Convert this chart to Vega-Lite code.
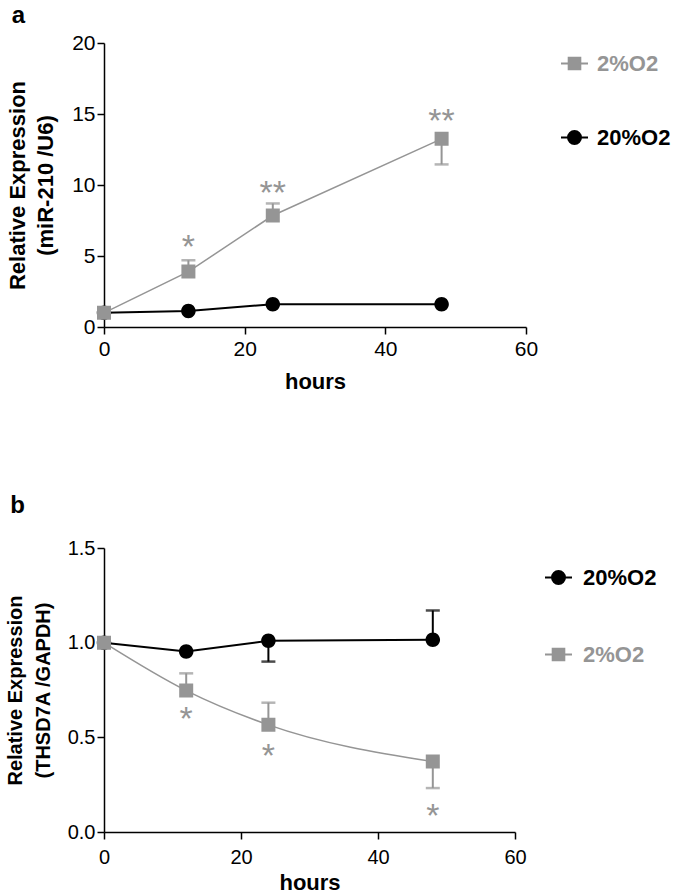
{
  "$schema": "https://vega.github.io/schema/vega-lite/v6.json",
  "background": "white",
  "padding": {"left": 5, "top": 4, "right": 0, "bottom": 0},
  "bounds": "flush",
  "spacing": 221,
  "config": {
    "font": "Liberation Sans",
    "view": {"stroke": null},
    "axis": {"grid": false, "labelFlush": false, "domainColor": "#000000", "tickColor": "#000000", "domainWidth": 1.5, "tickWidth": 1.5, "tickSize": 7, "labelColor": "#000000", "titleColor": "#000000", "titleFontWeight": "bold", "labelFont": "Liberation Sans", "titleFont": "Liberation Sans"}
  },
  "resolve": {"scale": {"color": "independent", "shape": "independent"}, "legend": {"color": "independent", "shape": "independent"}},
  "datasets": {
    "a": [
      {"hours": 0, "series": "20%O2", "value": 1.0, "err": null},
      {"hours": 12, "series": "20%O2", "value": 1.13, "err": null},
      {"hours": 24, "series": "20%O2", "value": 1.6, "err": null},
      {"hours": 48, "series": "20%O2", "value": 1.6, "err": null},
      {"hours": 0, "series": "2%O2", "value": 1.0, "err": null},
      {"hours": 12, "series": "2%O2", "value": 3.9, "err": 4.7},
      {"hours": 24, "series": "2%O2", "value": 7.85, "err": 8.7},
      {"hours": 48, "series": "2%O2", "value": 13.25, "err": 11.45}
    ],
    "b": [
      {"hours": 0, "series": "20%O2", "value": 1.0, "err": null},
      {"hours": 12, "series": "20%O2", "value": 0.953, "err": null},
      {"hours": 24, "series": "20%O2", "value": 1.01, "err": 0.9},
      {"hours": 48, "series": "20%O2", "value": 1.015, "err": 1.17},
      {"hours": 0, "series": "2%O2", "value": 1.0, "err": null},
      {"hours": 12, "series": "2%O2", "value": 0.747, "err": 0.838},
      {"hours": 24, "series": "2%O2", "value": 0.566, "err": 0.683},
      {"hours": 48, "series": "2%O2", "value": 0.372, "err": 0.232}
    ],
    "sa": [
      {"hours": 12, "label": "*", "pos": 6.1},
      {"hours": 24, "label": "**", "pos": 9.9},
      {"hours": 48, "label": "**", "pos": 15.0}
    ],
    "sb": [
      {"hours": 12, "label": "*", "pos": 0.633},
      {"hours": 24, "label": "*", "pos": 0.44},
      {"hours": 48, "label": "*", "pos": 0.123}
    ]
  },
  "vconcat": [
    {
      "width": 422,
      "height": 284,
      "title": {"text": "a", "anchor": "start", "frame": "bounds", "fontSize": 24, "fontWeight": "bold", "color": "#000000", "offset": 4, "dx": 5},
      "data": {"name": "a"},
      "encoding": {
        "x": {"field": "hours", "type": "quantitative", "scale": {"domain": [0, 60]}, "axis": {"values": [0, 20, 40, 60], "title": "hours", "labelFontSize": 21, "titleFontSize": 22, "labelPadding": 4, "titlePadding": 12}}
      },
      "layer": [
        {
          "transform": [{"filter": "datum.series === '20%O2'"}],
          "mark": {"type": "line", "color": "#000000", "strokeWidth": 2},
          "encoding": {"y": {"field": "value", "type": "quantitative", "scale": {"domain": [0, 20]}, "axis": {"values": [0, 5, 10, 15, 20], "title": ["Relative Expression", "(miR-210 /U6)"], "labelFontSize": 21, "titleFontSize": 22, "labelPadding": 2, "titlePadding": 14, "titleLineHeight": 28}}}
        },
        {
          "transform": [{"filter": "datum.series === '2%O2'"}],
          "mark": {"type": "line", "color": "#959595", "strokeWidth": 1.5},
          "encoding": {"y": {"field": "value", "type": "quantitative", "scale": {"domain": [0, 20]}, "axis": {"values": [0, 5, 10, 15, 20], "title": ["Relative Expression", "(miR-210 /U6)"], "labelFontSize": 21, "titleFontSize": 22, "labelPadding": 2, "titlePadding": 14, "titleLineHeight": 28}}}
        },
        {
          "transform": [{"filter": "isValid(datum.err)"}],
          "mark": {"type": "rule", "strokeWidth": 2},
          "encoding": {
            "y": {"field": "value", "type": "quantitative", "scale": {"domain": [0, 20]}, "axis": {"values": [0, 5, 10, 15, 20], "title": ["Relative Expression", "(miR-210 /U6)"], "labelFontSize": 21, "titleFontSize": 22, "labelPadding": 2, "titlePadding": 14, "titleLineHeight": 28}},
            "y2": {"field": "err"},
            "color": {"condition": {"test": "datum.series === '2%O2'", "value": "#959595"}, "value": "#000000"}
          }
        },
        {
          "transform": [{"filter": "isValid(datum.err)"}],
          "mark": {"type": "tick", "orient": "horizontal", "size": 14, "thickness": 2.5},
          "encoding": {
            "y": {"field": "err", "type": "quantitative", "scale": {"domain": [0, 20]}, "axis": {"values": [0, 5, 10, 15, 20], "title": ["Relative Expression", "(miR-210 /U6)"], "labelFontSize": 21, "titleFontSize": 22, "labelPadding": 2, "titlePadding": 14, "titleLineHeight": 28}},
            "color": {"condition": {"test": "datum.series === '2%O2'", "value": "#959595"}, "value": "#000000"}
          }
        },
        {
          "mark": {"type": "point", "filled": true, "opacity": 1},
          "encoding": {
            "y": {"field": "value", "type": "quantitative", "scale": {"domain": [0, 20]}, "axis": {"values": [0, 5, 10, 15, 20], "title": ["Relative Expression", "(miR-210 /U6)"], "labelFontSize": 21, "titleFontSize": 22, "labelPadding": 2, "titlePadding": 14, "titleLineHeight": 28}},
            "shape": {
              "field": "series", "type": "nominal",
              "scale": {"domain": ["2%O2", "20%O2"], "range": ["M-1,0H-0.43M0.43,0H1M-0.43,-0.43H0.43V0.43H-0.43Z", "M-1,0H1M0.48,0A0.48,0.48,0,1,1,-0.48,0A0.48,0.48,0,1,1,0.48,0Z"]},
              "legend": {
                "title": null, "orient": "right", "offset": 28, "padding": 6, "rowPadding": 48,
                "symbolSize": 729, "symbolStrokeWidth": 2, "labelFontSize": 22, "labelFontWeight": "bold", "labelOffset": 8, "symbolOpacity": 1
              }
            },
            "size": {"condition": {"test": "datum.series === '2%O2'", "value": 1060}, "value": 912},
            "color": {
              "field": "series", "type": "nominal",
              "scale": {"domain": ["2%O2", "20%O2"], "range": ["#959595", "#000000"]},
              "legend": {
                "title": null, "orient": "right", "offset": 28, "padding": 6, "rowPadding": 48,
                "symbolSize": 729, "symbolStrokeWidth": 2, "labelFontSize": 22, "labelFontWeight": "bold", "labelOffset": 8, "symbolOpacity": 1,
                "encode": {
                  "symbols": {"update": {
                    "fill": {"signal": "datum.value === '2%O2' ? '#959595' : '#000000'"},
                    "stroke": {"signal": "datum.value === '2%O2' ? '#959595' : '#000000'"},
                    "strokeWidth": {"value": 2}
                  }},
                  "labels": {"update": {
                    "fill": {"signal": "datum.value === '2%O2' ? '#959595' : '#000000'"}
                  }}
                }
              }
            }
          }
        },
        {
          "data": {"name": "sa"},
          "mark": {"type": "text", "fontSize": 34, "color": "#959595", "baseline": "middle", "dy": 8},
          "encoding": {
            "y": {"field": "pos", "type": "quantitative", "scale": {"domain": [0, 20]}, "axis": {"values": [0, 5, 10, 15, 20], "title": ["Relative Expression", "(miR-210 /U6)"], "labelFontSize": 21, "titleFontSize": 22, "labelPadding": 2, "titlePadding": 14, "titleLineHeight": 28}},
            "text": {"field": "label"}
          }
        }
      ]
    },
    {
      "width": 411,
      "height": 284,
      "title": {"text": "b", "anchor": "start", "frame": "bounds", "fontSize": 24, "fontWeight": "bold", "color": "#000000", "offset": 20, "dx": 5},
      "data": {"name": "b"},
      "encoding": {
        "x": {"field": "hours", "type": "quantitative", "scale": {"domain": [0, 60]}, "axis": {"values": [0, 20, 40, 60], "title": "hours", "labelFontSize": 20, "titleFontSize": 22, "labelPadding": 8, "titlePadding": 5}}
      },
      "layer": [
        {
          "transform": [{"filter": "datum.series === '20%O2'"}],
          "mark": {"type": "line", "color": "#000000", "strokeWidth": 2},
          "encoding": {"y": {"field": "value", "type": "quantitative", "scale": {"domain": [0, 1.5]}, "axis": {"values": [0, 0.5, 1, 1.5], "format": ".1f", "title": ["Relative Expression", "(THSD7A /GAPDH)"], "labelFontSize": 20, "titleFontSize": 20, "labelPadding": 2, "titlePadding": 14, "titleLineHeight": 28}}}
        },
        {
          "transform": [{"filter": "datum.series === '2%O2'"}],
          "mark": {"type": "line", "color": "#959595", "strokeWidth": 1.5, "interpolate": "monotone"},
          "encoding": {"y": {"field": "value", "type": "quantitative", "scale": {"domain": [0, 1.5]}, "axis": {"values": [0, 0.5, 1, 1.5], "format": ".1f", "title": ["Relative Expression", "(THSD7A /GAPDH)"], "labelFontSize": 20, "titleFontSize": 20, "labelPadding": 2, "titlePadding": 14, "titleLineHeight": 28}}}
        },
        {
          "transform": [{"filter": "isValid(datum.err)"}],
          "mark": {"type": "rule", "strokeWidth": 2},
          "encoding": {
            "y": {"field": "value", "type": "quantitative", "scale": {"domain": [0, 1.5]}, "axis": {"values": [0, 0.5, 1, 1.5], "format": ".1f", "title": ["Relative Expression", "(THSD7A /GAPDH)"], "labelFontSize": 20, "titleFontSize": 20, "labelPadding": 2, "titlePadding": 14, "titleLineHeight": 28}},
            "y2": {"field": "err"},
            "color": {"condition": {"test": "datum.series === '2%O2'", "value": "#959595"}, "value": "#000000"}
          }
        },
        {
          "transform": [{"filter": "isValid(datum.err)"}],
          "mark": {"type": "tick", "orient": "horizontal", "size": 14, "thickness": 2.5},
          "encoding": {
            "y": {"field": "err", "type": "quantitative", "scale": {"domain": [0, 1.5]}, "axis": {"values": [0, 0.5, 1, 1.5], "format": ".1f", "title": ["Relative Expression", "(THSD7A /GAPDH)"], "labelFontSize": 20, "titleFontSize": 20, "labelPadding": 2, "titlePadding": 14, "titleLineHeight": 28}},
            "color": {"condition": {"test": "datum.series === '2%O2'", "value": "#959595"}, "value": "#000000"}
          }
        },
        {
          "mark": {"type": "point", "filled": true, "opacity": 1},
          "encoding": {
            "y": {"field": "value", "type": "quantitative", "scale": {"domain": [0, 1.5]}, "axis": {"values": [0, 0.5, 1, 1.5], "format": ".1f", "title": ["Relative Expression", "(THSD7A /GAPDH)"], "labelFontSize": 20, "titleFontSize": 20, "labelPadding": 2, "titlePadding": 14, "titleLineHeight": 28}},
            "shape": {
              "field": "series", "type": "nominal",
              "scale": {"domain": ["20%O2", "2%O2"], "range": ["M-1,0H1M0.48,0A0.48,0.48,0,1,1,-0.48,0A0.48,0.48,0,1,1,0.48,0Z", "M-1,0H-0.43M0.43,0H1M-0.43,-0.43H0.43V0.43H-0.43Z"]},
              "legend": {
                "title": null, "orient": "right", "offset": 14, "padding": 15, "rowPadding": 51,
                "symbolSize": 729, "symbolStrokeWidth": 2, "labelFontSize": 22, "labelFontWeight": "bold", "labelOffset": 10, "symbolOpacity": 1
              }
            },
            "size": {"condition": {"test": "datum.series === '2%O2'", "value": 1060}, "value": 912},
            "color": {
              "field": "series", "type": "nominal",
              "scale": {"domain": ["20%O2", "2%O2"], "range": ["#000000", "#959595"]},
              "legend": {
                "title": null, "orient": "right", "offset": 14, "padding": 15, "rowPadding": 51,
                "symbolSize": 729, "symbolStrokeWidth": 2, "labelFontSize": 22, "labelFontWeight": "bold", "labelOffset": 10, "symbolOpacity": 1,
                "encode": {
                  "symbols": {"update": {
                    "fill": {"signal": "datum.value === '2%O2' ? '#959595' : '#000000'"},
                    "stroke": {"signal": "datum.value === '2%O2' ? '#959595' : '#000000'"},
                    "strokeWidth": {"value": 2}
                  }},
                  "labels": {"update": {
                    "fill": {"signal": "datum.value === '2%O2' ? '#959595' : '#000000'"}
                  }}
                }
              }
            }
          }
        },
        {
          "data": {"name": "sb"},
          "mark": {"type": "text", "fontSize": 34, "color": "#959595", "baseline": "middle", "dy": 8},
          "encoding": {
            "y": {"field": "pos", "type": "quantitative", "scale": {"domain": [0, 1.5]}, "axis": {"values": [0, 0.5, 1, 1.5], "format": ".1f", "title": ["Relative Expression", "(THSD7A /GAPDH)"], "labelFontSize": 20, "titleFontSize": 20, "labelPadding": 2, "titlePadding": 14, "titleLineHeight": 28}},
            "text": {"field": "label"}
          }
        }
      ]
    }
  ]
}
